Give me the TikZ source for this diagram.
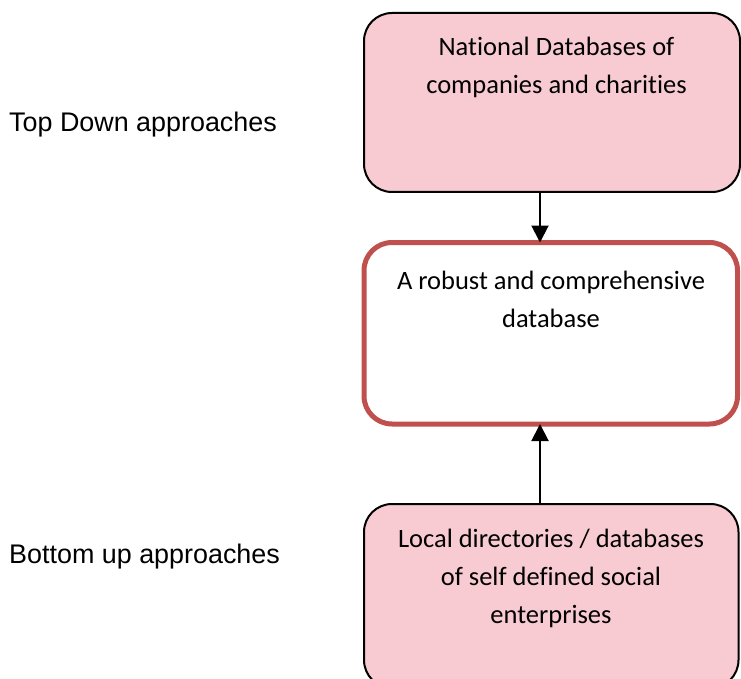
\documentclass[tikz,border=0pt]{standalone}
\usepackage{fontspec}
\setmainfont{Carlito}[Ligatures={NoCommon,NoContextual}]
\newfontfamily\labelfont{Liberation Sans}
\usetikzlibrary{arrows.meta}

\definecolor{boxpink}{RGB}{248,203,210}
\definecolor{boxred}{RGB}{192,80,77}

\tikzset{
  sourcebox/.style={draw=black, line width=2pt, fill=boxpink, rounded corners=28pt,
    inner sep=0pt, outer sep=0pt},
  targetbox/.style={draw=boxred, line width=5pt, fill=white, rounded corners=28pt,
    inner sep=0pt, outer sep=0pt},
  boxtext/.style={anchor=base, inner sep=0pt, font=\fontsize{26.5}{38}\selectfont},
  sidelabel/.style={anchor=base west, inner sep=0pt, font=\labelfont\fontsize{26.9}{32}\selectfont},
  flow/.style={line width=2pt, -{Triangle[length=17pt,width=17pt]}}
}

\newcommand{\boxlines}[1]{\begin{tabular}[t]{@{}c@{}}#1\end{tabular}}

\begin{document}
\begin{tikzpicture}[x=1pt,y=-1pt]
  \useasboundingbox (0,0) rectangle (741,679);

  % the three boxes
  \node[sourcebox, minimum width=376pt, minimum height=179pt] (national) at (552,102.5) {};
  \node[targetbox, minimum width=373.5pt, minimum height=181.5pt] (robust) at (550.75,333.25) {};
  \node[sourcebox, minimum width=374.5pt, minimum height=184pt] (local) at (551.25,596) {};

  % box texts
  \node[boxtext] (nationaltext) at (556.5,56) {\boxlines{National Databases of\\companies and charities}};
  \node[boxtext] (robusttext) at (551,289) {\boxlines{A robust and comprehensive\\database}};
  \node[boxtext] (localtext) at (551,547) {\boxlines{Local directories / databases\\of self defined social\\enterprises}};

  % side labels
  \node[sidelabel] (topdown) at (9,132) {Top Down approaches};
  \node[sidelabel] (bottomup) at (9,563) {Bottom up approaches};

  % connectors
  \coordinate (axis) at (540,0);
  \draw[flow] (national.south -| axis) -- (robust.north -| axis);
  \draw[flow] (local.north -| axis) -- (robust.south -| axis);
\end{tikzpicture}
\end{document}
